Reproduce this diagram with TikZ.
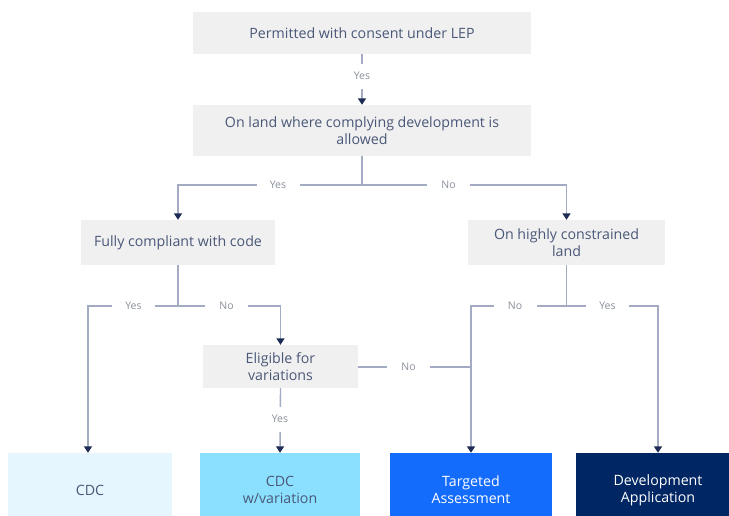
\documentclass[tikz,border=0pt]{standalone}
\usepackage{fontspec}
\setmainfont{Open Sans}
\usetikzlibrary{arrows.meta}
\definecolor{boxgray}{HTML}{F0F0F0}
\definecolor{boxtext}{HTML}{4A5878}
\definecolor{linegray}{HTML}{A3ABC3}
\definecolor{tipnavy}{HTML}{1E2C55}
\definecolor{labelgray}{HTML}{8A8F9A}
\definecolor{cdclight}{HTML}{E6F6FE}
\definecolor{cdcvar}{HTML}{8CE0FF}
\definecolor{tablue}{HTML}{146CFD}
\definecolor{danavy}{HTML}{002664}
\tikzset{
  question/.style={fill=boxgray, text=boxtext, align=center, inner sep=0pt,
    font=\fontsize{14.2}{17}\selectfont},
  outcome/.style={inner sep=0pt, align=center, font=\fontsize{14.2}{17}\selectfont},
  link/.style={draw=linegray, line width=1.4pt},
  flow/.style={link, -{Triangle[width=8pt,length=6.5pt,color=tipnavy]}},
  answer/.style={fill=white, text=labelgray, inner sep=0pt, minimum width=43pt,
    minimum height=12pt, font=\fontsize{10.5}{12}\selectfont},
  vanswer/.style={answer, minimum width=16pt, minimum height=25pt}
}
\begin{document}
\begin{tikzpicture}[x=1pt,y=-1pt]
\clip (0,0) rectangle (729,515);
\fill[white] (0,0) rectangle (729,515);

% question boxes
\node[question, minimum width=338pt, minimum height=42pt] (lep) at (362,33)
  {Permitted with consent under LEP};
\node[question, minimum width=338pt, minimum height=51pt] (land) at (362,130.5)
  {On land where complying development is\\allowed};
\node[question, minimum width=194pt, minimum height=45pt] (code) at (178,242.5)
  {Fully compliant with code};
\node[question, minimum width=197pt, minimum height=45pt] (constr) at (566.5,242.5)
  {On highly constrained\\land};
\node[question, minimum width=155pt, minimum height=43pt] (elig) at (280.5,366.5)
  {Eligible for\\variations};

% outcome boxes
\node[outcome, fill=cdclight, text=boxtext, minimum width=164pt, minimum height=74pt] (cdc) at (90,490) {CDC};
\node[outcome, fill=cdcvar, text=boxtext, minimum width=160pt, minimum height=74pt] (cdcv) at (280,490) {CDC\\w/variation};
\node[outcome, fill=tablue, text=white, minimum width=162pt, minimum height=74pt] (ta) at (471,490) {Targeted\\Assessment};
\node[outcome, fill=danavy, text=white, minimum width=164pt, minimum height=74pt] (da) at (658,490) {Development\\Application};

% branch points
\coordinate (j1) at (362,185);
\coordinate (j2) at (178,306);
\coordinate (j3) at (566.5,306);
\coordinate (j4) at (471,367);

% connectors
\draw[flow] (lep.south) -- (land.north);
\draw[link] (land.south) -- (j1);
\draw[flow] (j1) -| (code.north);
\draw[flow] (j1) -| (constr.north);
\draw[link] (code.south) -- (j2);
\draw[flow] (j2) -| (cdc.north -| 88,0);
\draw[flow] (j2) -| (elig.north);
\draw[flow] (elig.south) -- (cdcv.north);
\draw[link] (constr.south) -- (j3);
\draw[flow] (j3) -| (ta.north);
\draw[flow] (j3) -| (da.north);
\draw[link] (elig.east |- j4) -- (j4);

% answer labels
\node[vanswer] (a1) at (362,76) {Yes};
\node[answer] (a2) at (278,185) {Yes};
\node[answer] (a3) at (448.5,185) {No};
\node[answer] (a4) at (133.5,306) {Yes};
\node[answer] (a5) at (226.5,306) {No};
\node[vanswer] (a6) at (280,419) {Yes};
\node[answer] (a7) at (408.5,367) {No};
\node[answer] (a8) at (515,306) {No};
\node[answer] (a9) at (607.5,306) {Yes};
\end{tikzpicture}
\end{document}
